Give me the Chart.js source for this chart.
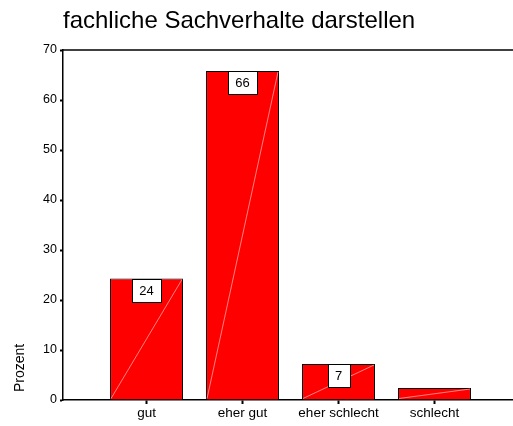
<!DOCTYPE html>
<html>
<head>
<meta charset="utf-8">
<script src="https://cdn.jsdelivr.net/npm/chart.js@4"></script>
<style>
  html, body { margin: 0; padding: 0; background: #fff; }
  #wrap { width: 513px; height: 426px; }
</style>
</head>
<body>
<div id="wrap"><canvas id="chart"></canvas></div>
<script>
// data
const categories = ["gut", "eher gut", "eher schlecht", "schlecht"];
const percent = [24.3, 65.8, 7.2, 2.4];
const valueLabels = ["24", "66", "7", ""];
const yTicks = [0, 10, 20, 30, 40, 50, 60, 70];

const FONT = "'Liberation Sans', Arial, sans-serif";

// frame lines, diagonal streaks, value boxes, axis title
const extras = {
  id: "extras",
  afterDatasetsDraw(chart) {
    const ctx = chart.ctx;
    const area = chart.chartArea;
    const meta = chart.getDatasetMeta(0);

    ctx.save();
    // faint streak across each bar
    meta.data.forEach(bar => {
      const half = bar.width / 2;
      ctx.strokeStyle = "rgba(255,190,190,0.85)";
      ctx.lineWidth = 0.8;
      ctx.beginPath();
      ctx.moveTo(bar.x - half + 1, bar.base - 1);
      ctx.lineTo(bar.x + half - 1, bar.y + 1);
      ctx.stroke();
    });

    // value boxes
    ctx.font = "13px " + FONT;
    ctx.textAlign = "center";
    ctx.textBaseline = "middle";
    meta.data.forEach((bar, i) => {
      const txt = valueLabels[i];
      if (!txt) return;
      const w = Math.round(ctx.measureText(txt).width + 15);
      const h = 23;
      const x = Math.round(bar.x - w / 2) + 0.5;
      const y = Math.round(bar.y) + 0.5;
      ctx.fillStyle = "#fff";
      ctx.fillRect(x, y, w, h);
      ctx.strokeStyle = "#000";
      ctx.lineWidth = 1;
      ctx.strokeRect(x, y, w, h);
      ctx.fillStyle = "#000";
      ctx.fillText(txt, bar.x, y + h / 2 + 0.5);
    });

    // top line of the frame
    ctx.strokeStyle = "#000";
    ctx.lineWidth = 1.5;
    ctx.beginPath();
    ctx.moveTo(area.left, area.top);
    ctx.lineTo(chart.width, area.top);
    ctx.stroke();

    // y axis title, sitting near the bottom
    ctx.translate(20, 392);
    ctx.rotate(-Math.PI / 2);
    ctx.font = "14px " + FONT;
    ctx.textAlign = "left";
    ctx.textBaseline = "middle";
    ctx.fillStyle = "#000";
    ctx.fillText("Prozent", 0, 0);
    ctx.restore();
  }
};

new Chart(document.getElementById("chart"), {
  type: "bar",
  data: {
    datasets: [{
      data: percent.map((v, i) => ({ x: i, y: v })),
      backgroundColor: "#ff0000",
      borderColor: "#000",
      borderWidth: 1,
      borderSkipped: "bottom",
      categoryPercentage: 1,
      barPercentage: 0.76
    }]
  },
  options: {
    responsive: true,
    maintainAspectRatio: false,
    animation: false,
    layout: { padding: 0 },
    plugins: {
      legend: { display: false },
      tooltip: { enabled: false },
      title: {
        display: true,
        text: "fachliche Sachverhalte darstellen",
        align: "start",
        fullSize: false,
        color: "#000",
        font: { family: FONT, size: 24, weight: "normal", lineHeight: 1.2 },
        padding: { top: 7, bottom: 14.2 }
      }
    },
    scales: {
      x: {
        type: "linear",
        min: -0.87,
        max: 3.8177,
        bounds: "data",
        offset: false,
        grid: { display: true, offset: false, drawOnChartArea: false, drawTicks: true, tickLength: 4, color: "#000", tickWidth: 2 },
        border: { display: true, color: "#000", width: 1.5 },
        afterBuildTicks: scale => {
          scale.ticks = categories.map((c, i) => ({ value: i }));
        },
        afterFit: scale => { scale.height = 26; },
        ticks: {
          autoSkip: false,
          maxRotation: 0,
          padding: 1,
          color: "#000",
          font: { family: FONT, size: 13.5 },
          callback: v => categories[v]
        }
      },
      y: {
        min: 0,
        max: 70,
        afterBuildTicks: scale => {
          scale.ticks = yTicks.map(v => ({ value: v }));
        },
        afterFit: scale => { scale.width = 63; },
        grid: { display: true, drawOnChartArea: false, drawTicks: true, tickLength: 3, color: "#000", tickWidth: 2 },
        border: { display: true, color: "#000", width: 1.5 },
        ticks: {
          padding: 3,
          color: "#000",
          font: { family: FONT, size: 12.5 }
        }
      }
    }
  },
  plugins: [extras]
});
</script>
</body>
</html>
